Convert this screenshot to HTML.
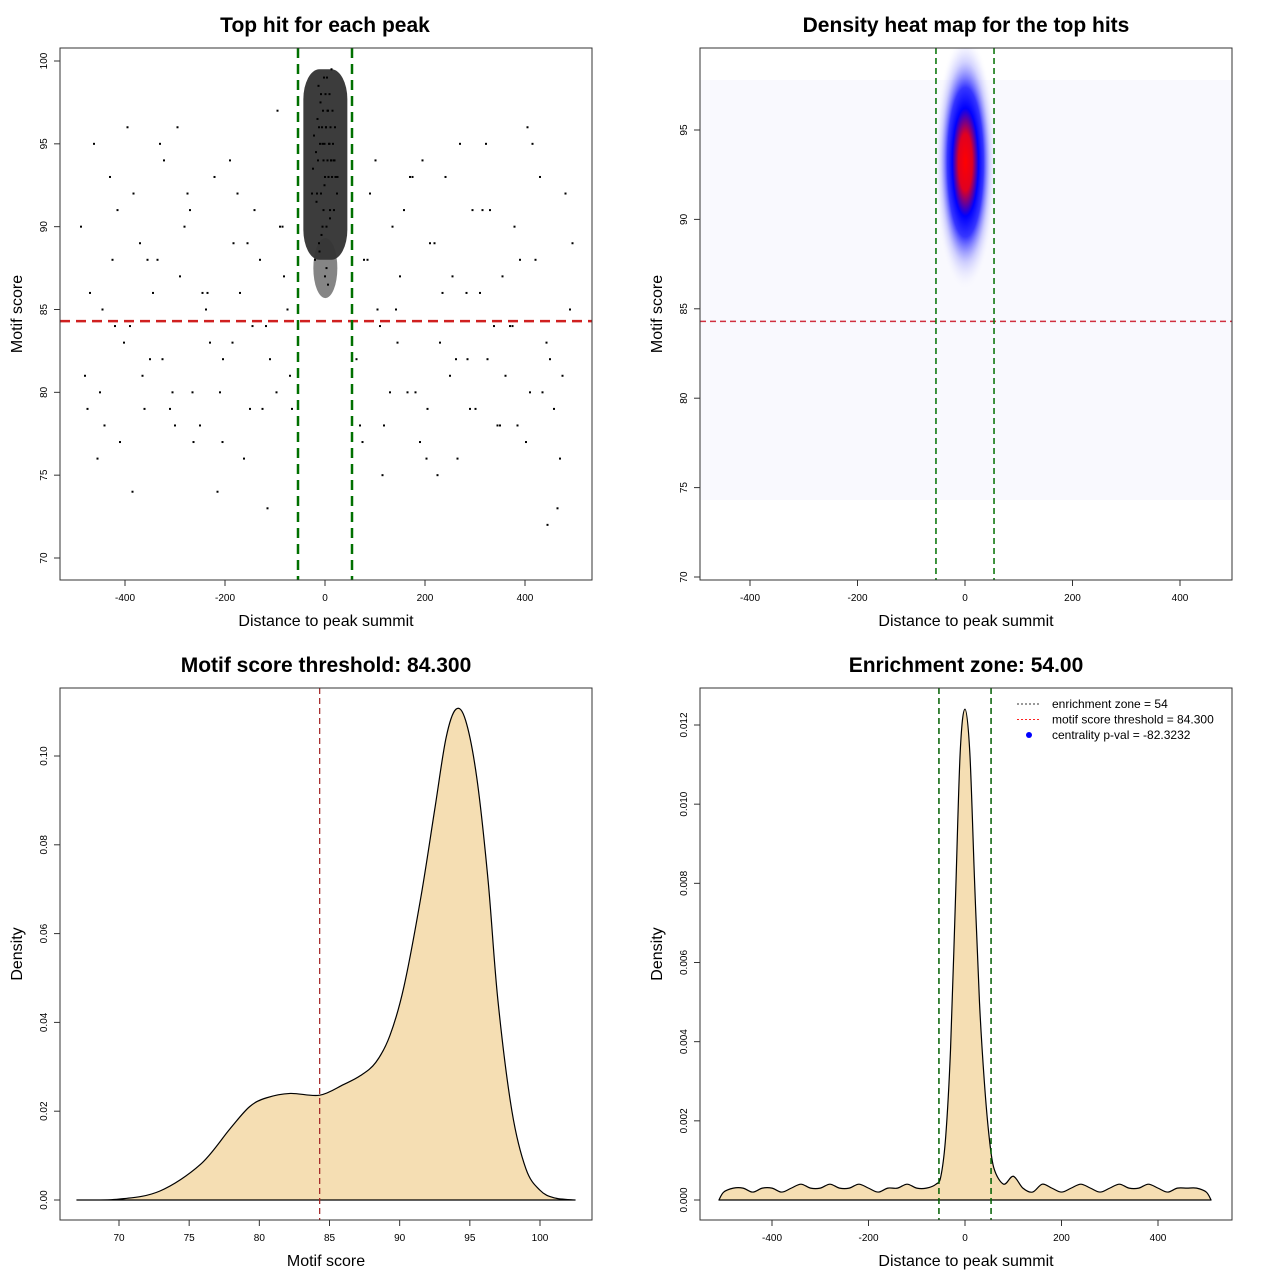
<!DOCTYPE html>
<html><head><meta charset="utf-8"><style>
body{margin:0;background:#fff}
svg{display:block;font-family:"Liberation Sans",sans-serif}
.t{font-weight:bold;font-size:21px;text-anchor:middle}
.al{font-size:16px;text-anchor:middle}
.tk{font-size:10px;text-anchor:middle}
</style></head><body>
<svg id="s" width="1280" height="1280" xmlns="http://www.w3.org/2000/svg"></svg>
<script>
// ---------- data ----------
const bgX=[-480,-462,-441,-425,-402,-383,-361,-344,-322,-305,-281,-263,-238,-221,-204,-183,-162,-141,-118,-97,-82,-66,63,78,101,118,142,158,181,203,219,241,262,283,301,322,338,361,379,402,421,443,458,481,
-470,-450,-430,-410,-390,-370,-350,-330,-310,-290,-270,-250,-230,-210,-190,-170,-150,-130,-110,-90,-75,70,90,110,130,150,170,190,210,230,250,270,290,310,330,350,370,390,410,430,450,470,490,
-488,-455,-420,-395,-365,-335,-300,-275,-245,-215,-185,-155,-125,-95,-70,75,105,135,165,195,225,255,285,315,345,375,405,435,465,495,
-475,-445,-415,-385,-355,-325,-295,-265,-235,-205,-175,-145,-115,-85,85,115,145,175,205,235,265,295,325,355,385,415,445,475];
const bgY=[81,95,78,88,83,92,79,86,94,80,90,77,85,93,82,89,76,91,84,80,87,79,82,88,94,78,85,91,80,76,89,93,82,86,79,95,84,81,90,77,88,83,79,92,
86,80,93,77,84,89,82,95,79,87,91,78,83,80,94,86,79,88,82,90,85,78,92,84,80,87,93,77,89,83,81,95,79,86,91,78,84,88,80,93,82,76,85,
90,76,84,96,81,88,78,92,86,74,83,89,79,97,81,77,85,90,80,94,75,87,82,91,78,84,96,80,73,89,
79,85,91,74,88,82,96,80,86,77,92,84,73,90,88,75,83,93,79,86,76,91,82,87,78,95,72,81];
const cX=[-20,-12,-5,3,10,18,24,-16,-8,0,7,14,21,-24,-14,-3,5,12,19,-18,-10,-1,8,16,-22,-6,2,11,20,-15,-4,6,15,-9,1,9,-13,-2,4,13,-7,0,6,-11,3,10,-17,-1,7,17,-5,2,-26,25,-12,12,-3,5,-8,9];
const cY=[88,89,90,90,91,91,92,92,92,93,93,93,93,93.5,94,94,94,94,94,94.5,95,95,95,95,95.5,96,96,96,96,96.5,97,97,97,97.5,98,98,98.5,99,99,99.5,89.5,87,86.5,88.5,87.5,90.5,91.5,92.5,93,94,95,96,92,93,96,94,91,97,98,95];
const dX=[67,70,72.9,75.8,77.9,79.3,80.5,82.2,84.3,86,87.2,88.3,89.3,90.3,91.5,92.5,93.3,94,94.7,95.5,96.3,97,98,99,100,101,102.5];
const dY=[0,0.0002,0.002,0.008,0.016,0.021,0.023,0.024,0.0236,0.026,0.028,0.031,0.037,0.048,0.068,0.088,0.104,0.1105,0.108,0.095,0.072,0.045,0.02,0.007,0.0022,0.0005,0];
const eX=[-510,-500,-480,-460,-440,-420,-400,-380,-360,-340,-320,-300,-280,-260,-240,-220,-200,-180,-160,-140,-120,-100,-80,-60,-50,-40,-30,-20,-10,0,10,20,30,40,50,60,80,100,120,140,160,180,200,220,240,260,280,300,320,340,360,380,400,420,440,460,480,500,510];
const eY=[0,0.0002,0.0003,0.0003,0.0002,0.0003,0.0003,0.0002,0.0003,0.0004,0.0003,0.0003,0.0004,0.0003,0.0003,0.0004,0.0003,0.0002,0.0003,0.0003,0.0004,0.0003,0.0003,0.0004,0.0006,0.0016,0.0038,0.0075,0.0113,0.0124,0.0113,0.008,0.005,0.003,0.0016,0.0008,0.0004,0.0006,0.0003,0.0002,0.0004,0.0003,0.0002,0.0003,0.0004,0.0003,0.0002,0.0003,0.0004,0.0003,0.0003,0.0004,0.0003,0.0002,0.0003,0.0003,0.0003,0.0002,0];
const xTicks=[-400,-200,0,200,400];
const scatYTicks=[70,75,80,85,90,95,100];
const heatYTicks=[70,75,80,85,90,95];
const dXTicks=[70,75,80,85,90,95,100];
const dYTicks=[0,0.02,0.04,0.06,0.08,0.10];
const dYLabels=["0.00","0.02","0.04","0.06","0.08","0.10"];
const eYTicks=[0,0.002,0.004,0.006,0.008,0.010,0.012];
const eYLabels=["0.000","0.002","0.004","0.006","0.008","0.010","0.012"];
const threshold=84.3, zone=54;

// ---------- helpers ----------
const S=document.getElementById('s');const NS='http://www.w3.org/2000/svg';
function mk(tag,at,parent){const e=document.createElementNS(NS,tag);for(const k in at)e.setAttribute(k,at[k]);(parent||S).appendChild(e);return e;}
function lin(d0,d1,r0,r1){return v=>r0+(v-d0)*(r1-r0)/(d1-d0);}
function txt(x,y,s,cls,rot){const e=mk('text',{x:x,y:y,class:cls});if(rot)e.setAttribute('transform','rotate(-90 '+x+' '+y+')');e.textContent=s;return e;}
function frame(x0,y0,x1,y1,name){const r=mk('rect',{x:x0,y:y0,width:x1-x0,height:y1-y0,fill:'none',stroke:'#333','stroke-width':1});}
function xAxis(ticks,labels,sx,yb,name){const g=mk('g',{});
 ticks.forEach((t,i)=>{const x=sx(t);mk('line',{x1:x,x2:x,y1:yb,y2:yb+6,stroke:'#333'},g);const e=mk('text',{x:x,y:yb+21,class:'tk'},g);e.textContent=labels[i];});
 mk('line',{x1:sx(ticks[0]),x2:sx(ticks[ticks.length-1]),y1:yb,y2:yb,stroke:'#333'},g);}
function yAxis(ticks,labels,sy,xl,name){const g=mk('g',{});
 ticks.forEach((t,i)=>{const y=sy(t);mk('line',{x1:xl-6,x2:xl,y1:y,y2:y,stroke:'#333'},g);const e=mk('text',{x:xl-13,y:y,class:'tk',transform:'rotate(-90 '+(xl-13)+' '+y+')'},g);e.textContent=labels[i];});
 mk('line',{x1:xl,x2:xl,y1:sy(ticks[0]),y2:sy(ticks[ticks.length-1]),stroke:'#333'},g);}
function smooth(P){let d='M'+P[0][0]+','+P[0][1];
 for(let i=0;i<P.length-1;i++){const p0=P[Math.max(0,i-1)],p1=P[i],p2=P[i+1],p3=P[Math.min(P.length-1,i+2)];
  const c1=[p1[0]+(p2[0]-p0[0])/6,p1[1]+(p2[1]-p0[1])/6],c2=[p2[0]-(p3[0]-p1[0])/6,p2[1]-(p3[1]-p1[1])/6];
  d+=' C'+c1[0]+','+c1[1]+' '+c2[0]+','+c2[1]+' '+p2[0]+','+p2[1];}
 return d;}

// ---------- panel 1: scatter ----------
{const sx=lin(0,400,325,525), sy=lin(70,100,558,61);
 let t=txt(325,32,'Top hit for each peak','t');
 const mx=cX.reduce((a,b)=>a+b,0)/cX.length;
 const ymax=Math.max(...cY),ymin=Math.min(...cY);
 const sh=mk('rect',{x:sx(mx)-22,y:sy(ymax),width:44,height:sy(ymin+1.5)-sy(ymax),rx:16,ry:30,fill:'#1a1a1a',opacity:0.85});
 
 const tail=mk('ellipse',{cx:sx(mx),cy:sy(ymin+1),rx:12,ry:30,fill:'#333',opacity:0.6});
 
 bgX.forEach((x,i)=>{const c=mk('rect',{x:sx(x)-1,y:sy(bgY[i])-1,width:2,height:2,fill:'#000'});
  });
 cX.forEach((x,i)=>{const c=mk('rect',{x:sx(x)-1,y:sy(cY[i])-1,width:2,height:2,fill:'#000'});
  });
 let l=mk('line',{x1:60,x2:592,y1:sy(threshold),y2:sy(threshold),stroke:'#d02020','stroke-width':2.5,'stroke-dasharray':'10 6'});
 [-zone,zone].forEach(z=>{const v=mk('line',{x1:sx(z),x2:sx(z),y1:48,y2:580,stroke:'#007000','stroke-width':2.5,'stroke-dasharray':'10 6'});});
 frame(60,48,592,580,'scatter-plot-area');
 xAxis(xTicks,xTicks.map(String),sx,580,'scatter-x-axis');
 yAxis(scatYTicks,scatYTicks.map(String),sy,60,'scatter-y-axis');
 t=txt(326,626,'Distance to peak summit','al');
 t=txt(22,314,'Motif score','al',1);}

// ---------- panel 2: heat map ----------
{const sx=lin(0,400,965,1180), sy=lin(70,95,577,130);
 let t=txt(966,32,'Density heat map for the top hits','t');
 const defs=mk('defs',{});
 const cp=mk('clipPath',{id:'hc'},defs);mk('rect',{x:700,y:48,width:532,height:532},cp);
 const rg=mk('radialGradient',{id:'hg'},defs);
 [['0','#ff0000',1],['0.22','#e00020',1],['0.42','#0000ff',1],['0.58','#2020ff',0.9],['0.78','#8080ff',0.35],['1','#ffffff',0]].forEach(s=>mk('stop',{offset:s[0],'stop-color':s[1],'stop-opacity':s[2]},rg));
 const g=mk('g',{'clip-path':'url(#hc)'});
 const bg=mk('rect',{x:700,y:80,width:532,height:420,fill:'#f9f9fe'},g);
 const mx=cX.reduce((a,b)=>a+b,0)/cX.length;
 const hot=mk('ellipse',{cx:sx(mx),cy:sy(93.2),rx:sx(mx+58)-sx(mx),ry:sy(86)-sy(93.2),fill:'url(#hg)'},g);
 
 let l=mk('line',{x1:700,x2:1232,y1:sy(threshold),y2:sy(threshold),stroke:'#d03040','stroke-width':1.5,'stroke-dasharray':'6 4'});
 [-zone,zone].forEach(z=>{const v=mk('line',{x1:sx(z),x2:sx(z),y1:48,y2:580,stroke:'#007000','stroke-width':1.5,'stroke-dasharray':'6 4'});});
 frame(700,48,1232,580,'heatmap-plot-area');
 xAxis(xTicks,xTicks.map(String),sx,580,'heatmap-x-axis');
 yAxis(heatYTicks,heatYTicks.map(String),sy,700,'heatmap-y-axis');
 t=txt(966,626,'Distance to peak summit','al');
 t=txt(662,314,'Motif score','al',1);}

// ---------- panel 3: score density ----------
{const sx=lin(70,100,119,540), sy=lin(0,0.1,1200,756);
 let t=txt(326,672,'Motif score threshold: 84.300','t');
 const P=dX.map((x,i)=>[sx(x),sy(dY[i])]);
 const p=mk('path',{d:smooth(P)+' Z',fill:'#f5deb3',stroke:'#000','stroke-width':1.2,'stroke-linejoin':'round'});
 let l=mk('line',{x1:sx(threshold),x2:sx(threshold),y1:688,y2:1220,stroke:'#a02020','stroke-width':1.2,'stroke-dasharray':'6 4'});
 frame(60,688,592,1220,'score-density-plot-area');
 xAxis(dXTicks,dXTicks.map(String),sx,1220,'score-density-x-axis');
 yAxis(dYTicks,dYLabels,sy,60,'score-density-y-axis');
 t=txt(326,1266,'Motif score','al');
 t=txt(22,954,'Density','al',1);}

// ---------- panel 4: distance density ----------
{const sx=lin(0,400,965,1158), sy=lin(0,0.012,1200,725);
 let t=txt(966,672,'Enrichment zone: 54.00','t');
 const P=eX.map((x,i)=>[sx(x),sy(eY[i])]);
 const p=mk('path',{d:smooth(P)+' Z',fill:'#f5deb3',stroke:'#000','stroke-width':1.2,'stroke-linejoin':'round'});
 [-zone,zone].forEach(z=>{const v=mk('line',{x1:sx(z),x2:sx(z),y1:688,y2:1220,stroke:'#006000','stroke-width':1.5,'stroke-dasharray':'6 4'});});
 frame(700,688,1232,1220,'enrichment-plot-area');
 xAxis(xTicks,xTicks.map(String),sx,1220,'enrichment-x-axis');
 yAxis(eYTicks,eYLabels,sy,700,'enrichment-y-axis');
 t=txt(966,1266,'Distance to peak summit','al');
 t=txt(662,954,'Density','al',1);
 const lg=mk('g',{});
 const ent=[['enrichment zone = 54','#333','line'],['motif score threshold = 84.300','#ff2020','line'],['centrality p-val = -82.3232','#0000ff','dot']];
 ent.forEach((e,i)=>{const y=704+i*15.5;const g=mk('g',{},lg);
  if(e[2]==='line')mk('line',{x1:1017,x2:1041,y1:y,y2:y,stroke:e[1],'stroke-dasharray':'2 2'},g);
  else mk('circle',{cx:1029,cy:y,r:3,fill:e[1]},g);
  const tt=mk('text',{x:1052,y:y+4,'font-size':12},g);tt.textContent=e[0];});}
</script>
</body></html>
